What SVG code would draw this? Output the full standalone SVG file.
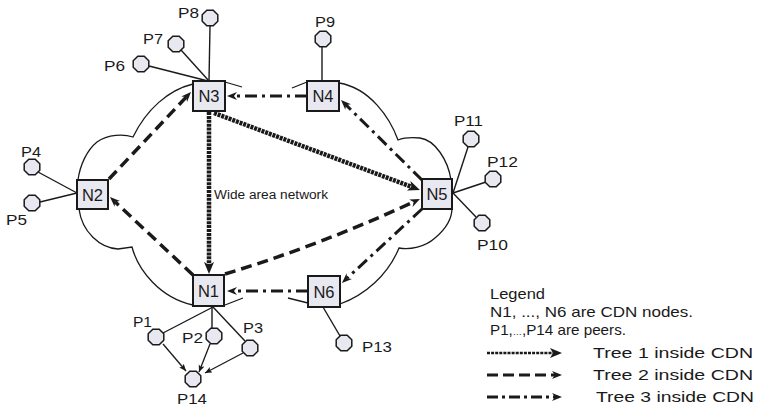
<svg xmlns="http://www.w3.org/2000/svg" width="757" height="417" viewBox="0 0 757 417">
<style>
.node rect{fill:#e8e8f0;stroke:#1a1a1a;stroke-width:2}
.node text{font-family:"Liberation Sans",Arial,sans-serif;font-size:16.5px;fill:#1a1a1a;text-anchor:middle}
.peer use{fill:#e8e8f0;stroke:#1a1a1a;stroke-width:1.5}
.lbl{font-family:"Liberation Sans",Arial,sans-serif;font-size:15px;fill:#1a1a1a}
.small{font-family:"Liberation Sans",Arial,sans-serif;font-size:12px;fill:#1a1a1a}
.link{stroke:#1a1a1a;stroke-width:1.4;fill:none}
.cloud{stroke:#1a1a1a;stroke-width:1.3;fill:none}
.t1{stroke:#1a1a1a;stroke-width:4.5;stroke-dasharray:3 0.9;fill:none;marker-end:url(#a1)}
.t2{stroke:#1a1a1a;stroke-width:3.5;stroke-dasharray:11 6;fill:none;marker-end:url(#a2)}
.t3{stroke:#1a1a1a;stroke-width:3;stroke-dasharray:12 5 3 5;fill:none;marker-end:url(#a2)}
.pp{stroke:#1a1a1a;stroke-width:1.3;fill:none;marker-end:url(#ap)}
.lg1{stroke:#1a1a1a;stroke-width:2.4;stroke-dasharray:3 1.1;fill:none;marker-end:url(#a1)}
.lg2{stroke:#1a1a1a;stroke-width:3;stroke-dasharray:11 5;fill:none;marker-end:url(#a2)}
.lg3{stroke:#1a1a1a;stroke-width:3;stroke-dasharray:11 4 3 4;fill:none;marker-end:url(#a2)}
</style>
<defs>
<marker id="a1" markerUnits="userSpaceOnUse" markerWidth="14" markerHeight="12" refX="5" refY="5" orient="auto"><path d="M0,0 L12,5 L0,10 L3,5 Z" fill="#1a1a1a"/></marker>
<marker id="a2" markerUnits="userSpaceOnUse" markerWidth="12" markerHeight="10" refX="3" refY="4" orient="auto"><path d="M0,0 L10,4 L0,8 L3,4 Z" fill="#1a1a1a"/></marker>
<marker id="ap" markerUnits="userSpaceOnUse" markerWidth="10" markerHeight="8" refX="7" refY="3" orient="auto"><path d="M0,0 L7,3 L0,6 L1.5,3 Z" fill="#1a1a1a"/></marker>
<path id="oct" d="M7.8,3.2 L3.2,7.8 L-3.2,7.8 L-7.8,3.2 L-7.8,-3.2 L-3.2,-7.8 L3.2,-7.8 L7.8,-3.2 Z"/>
</defs>

<g id="cloud">
<path class="cloud" d="M193,84 C168,90 146,110 133,137 C124,134 108,134 97,142 C87,150 80,165 78,180"/>
<path class="cloud" d="M79,209 C82,232 100,248 118,249 L132,247 C138,270 160,298 193,305"/>
<path class="cloud" d="M225,305 L243,298"/>
<path class="cloud" d="M288,298 L308,303"/>
<path class="cloud" d="M340,304 C365,295 388,275 399,248 C410,250 425,247 435,238 C447,228 452,218 452,208"/>
<path class="cloud" d="M451,180 C448,160 435,140 420,138 C410,137 403,138 398,140 C390,118 370,88 339,83"/>
<path class="cloud" d="M307,82 L292,88"/>
<path class="cloud" d="M225,82 L242,87"/>
</g>

<g id="connectors">
<path class="link" d="M210,26 L209,81"/>
<path class="link" d="M181,50 L209,81"/>
<path class="link" d="M149,66 L208,81"/>
<path class="link" d="M322,47 L322,81"/>
<path class="link" d="M38,172 L77,193"/>
<path class="link" d="M40,202 L77,193"/>
<path class="link" d="M453,193 L468,147"/>
<path class="link" d="M453,193 L486,182"/>
<path class="link" d="M453,193 L476,217"/>
<path class="link" d="M213,307 L163,333"/>
<path class="link" d="M212,307 L212,329"/>
<path class="link" d="M213,307 L245,341"/>
<path class="link" d="M323,307 L340,336"/>
<path class="pp" d="M163,344 L186,371"/>
<path class="pp" d="M210,344 L199,372"/>
<path class="pp" d="M243,353 L205,373"/>

<path class="t1" d="M209,112 L209,267"/>
<path class="t1" d="M214,113 L413.4,187.5"/>
<path class="t2" d="M109,179 L186.2,97.1"/>
<path class="t2" d="M193,275 L115.1,201.8"/>
<path class="t2" d="M225,274 Q318,246 413.6,202"/>
<path class="t3" d="M307,96 L234,96"/>
<path class="t3" d="M422,180 L346,104.9"/>
<path class="t3" d="M422,209 L347.1,278.2"/>
<path class="t3" d="M308,291 L234,291"/>
</g>

<g id="N3" class="node"><rect x="193" y="81" width="32" height="30"/><text x="209" y="102">N3</text></g>
<g id="N4" class="node"><rect x="307" y="81" width="32" height="30"/><text x="323" y="102">N4</text></g>
<g id="N2" class="node"><rect x="77" y="180" width="31" height="29"/><text x="92.5" y="200.5">N2</text></g>
<g id="N5" class="node"><rect x="422" y="179" width="30" height="30"/><text x="437" y="200">N5</text></g>
<g id="N1" class="node"><rect x="193" y="275" width="31" height="31"/><text x="208.5" y="296.5">N1</text></g>
<g id="N6" class="node"><rect x="308" y="276" width="32" height="31"/><text x="324" y="297.5">N6</text></g>

<g id="P8" class="peer"><use href="#oct" x="210" y="18"/><text class="lbl" x="178" y="18" textLength="21" lengthAdjust="spacingAndGlyphs">P8</text></g>
<g id="P7" class="peer"><use href="#oct" x="176" y="44"/><text class="lbl" x="143" y="44" textLength="20" lengthAdjust="spacingAndGlyphs">P7</text></g>
<g id="P6" class="peer"><use href="#oct" x="141" y="64"/><text class="lbl" x="104" y="71" textLength="21" lengthAdjust="spacingAndGlyphs">P6</text></g>
<g id="P4" class="peer"><use href="#oct" x="32" y="167"/><text class="lbl" x="21" y="157" textLength="20" lengthAdjust="spacingAndGlyphs">P4</text></g>
<g id="P5" class="peer"><use href="#oct" x="32" y="203"/><text class="lbl" x="6" y="225" textLength="21" lengthAdjust="spacingAndGlyphs">P5</text></g>
<g id="P9" class="peer"><use href="#oct" x="323" y="39"/><text class="lbl" x="315" y="27" textLength="20" lengthAdjust="spacingAndGlyphs">P9</text></g>
<g id="P11" class="peer"><use href="#oct" x="471" y="139"/><text class="lbl" x="454" y="126" textLength="29" lengthAdjust="spacingAndGlyphs">P11</text></g>
<g id="P12" class="peer"><use href="#oct" x="493" y="179"/><text class="lbl" x="487" y="167" textLength="31" lengthAdjust="spacingAndGlyphs">P12</text></g>
<g id="P10" class="peer"><use href="#oct" x="482" y="223"/><text class="lbl" x="477" y="250" textLength="31" lengthAdjust="spacingAndGlyphs">P10</text></g>
<g id="P1" class="peer"><use href="#oct" x="156" y="337"/><text class="lbl" x="133" y="327" textLength="19" lengthAdjust="spacingAndGlyphs">P1</text></g>
<g id="P2" class="peer"><use href="#oct" x="214" y="336"/><text class="lbl" x="182" y="343" textLength="21" lengthAdjust="spacingAndGlyphs">P2</text></g>
<g id="P3" class="peer"><use href="#oct" x="250" y="348"/><text class="lbl" x="243" y="333" textLength="20" lengthAdjust="spacingAndGlyphs">P3</text></g>
<g id="P14" class="peer"><use href="#oct" x="193" y="379"/><text class="lbl" x="177" y="404" textLength="30" lengthAdjust="spacingAndGlyphs">P14</text></g>
<g id="P13" class="peer"><use href="#oct" x="344" y="343"/><text class="lbl" x="362" y="352" textLength="30" lengthAdjust="spacingAndGlyphs">P13</text></g>

<text class="small" x="214" y="199" textLength="114" lengthAdjust="spacingAndGlyphs">Wide area network</text>

<g id="legend">
<text class="lbl" x="490" y="299" textLength="55" lengthAdjust="spacingAndGlyphs">Legend</text>
<text class="lbl" x="490" y="317" textLength="203" lengthAdjust="spacingAndGlyphs">N1, ..., N6 are CDN nodes.</text>
<text class="lbl" x="490" y="335" textLength="136" lengthAdjust="spacingAndGlyphs">P1,<tspan font-size="9">…</tspan>,P14 are peers.</text>
<path class="lg1" d="M487,353 L555,353"/>
<text class="lbl" x="593" y="358" textLength="160" lengthAdjust="spacingAndGlyphs">Tree 1 inside CDN</text>
<path class="lg2" d="M487,375 L555,375"/>
<text class="lbl" x="593" y="380" textLength="160" lengthAdjust="spacingAndGlyphs">Tree 2 inside CDN</text>
<path class="lg3" d="M487,397 L555,397"/>
<text class="lbl" x="596" y="402" textLength="158" lengthAdjust="spacingAndGlyphs">Tree 3 inside CDN</text>
</g>
</svg>
